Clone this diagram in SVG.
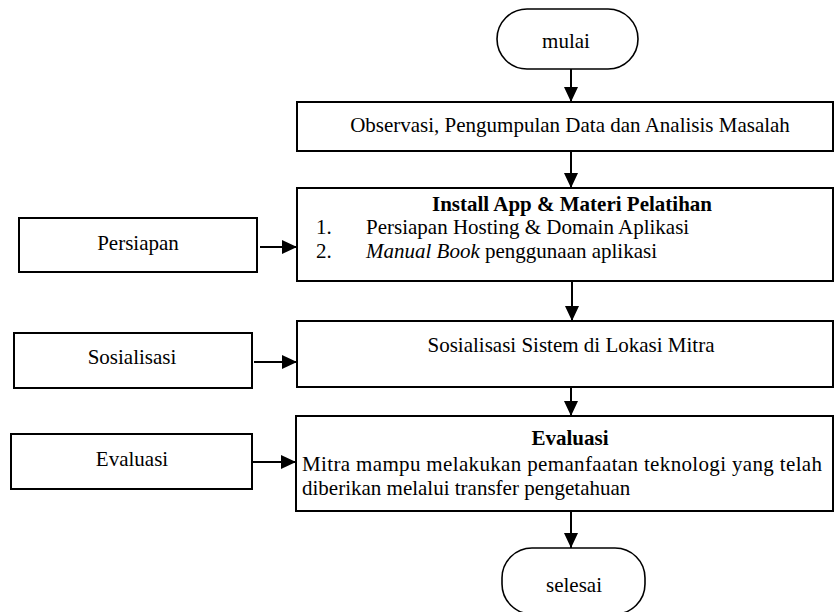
<svg xmlns="http://www.w3.org/2000/svg" width="835" height="612" viewBox="0 0 835 612">
<style>
  .box{fill:#fff;stroke:#000;stroke-width:2}
  .term{fill:#fff;stroke:#000;stroke-width:1.6}
  .t{font-family:"Liberation Serif","Times New Roman",serif;font-size:21px;fill:#000}
  .c{text-anchor:middle}
  .b{font-weight:bold}
  .conn line{stroke:#000;stroke-width:2;marker-end:url(#ah)}
</style>
<defs>
  <marker id="ah" markerUnits="userSpaceOnUse" markerWidth="15" markerHeight="14" refX="15" refY="7" orient="auto">
    <path d="M0,0 L15,7 L0,14 z" fill="#000"/>
  </marker>
</defs>
<rect width="835" height="612" fill="#fff"/>
<g id="mulai">
  <rect class="term" x="497" y="9" width="141" height="60" rx="30" ry="30"/>
  <text class="t c" x="566" y="48">mulai</text>
</g>
<g id="observasi">
  <rect class="box" x="297" y="102" width="536" height="49"/>
  <text class="t c" x="570" y="132">Observasi, Pengumpulan Data dan Analisis Masalah</text>
</g>
<g id="install">
  <rect class="box" x="297" y="188" width="536" height="93"/>
  <text class="t c b" x="572" y="211">Install App &amp; Materi Pelatihan</text>
  <text class="t" x="316" y="234">1.</text>
  <text class="t" x="366" y="234">Persiapan Hosting &amp; Domain Aplikasi</text>
  <text class="t" x="316" y="258">2.</text>
  <text class="t" x="366" y="258"><tspan font-style="italic">Manual Book</tspan> penggunaan aplikasi</text>
</g>
<g id="sosialisasi-sistem">
  <rect class="box" x="297" y="321" width="536" height="66"/>
  <text class="t c" x="571" y="352">Sosialisasi Sistem di Lokasi Mitra</text>
</g>
<g id="evaluasi-main">
  <rect class="box" x="296" y="416" width="537" height="95"/>
  <text class="t c b" x="570" y="445">Evaluasi</text>
  <text class="t" x="302" y="471" textLength="520" lengthAdjust="spacing">Mitra mampu melakukan pemanfaatan teknologi yang telah</text>
  <text class="t" x="302" y="495">diberikan melalui transfer pengetahuan</text>
</g>
<g id="persiapan">
  <rect class="box" x="19" y="218" width="238" height="54"/>
  <text class="t c" x="138" y="250">Persiapan</text>
</g>
<g id="sosialisasi">
  <rect class="box" x="14" y="333" width="238" height="55"/>
  <text class="t c" x="132" y="364">Sosialisasi</text>
</g>
<g id="evaluasi">
  <rect class="box" x="11" y="434" width="241" height="55"/>
  <text class="t c" x="132" y="466">Evaluasi</text>
</g>
<g id="selesai">
  <rect class="term" x="502" y="548" width="143" height="66" rx="30" ry="30"/>
  <text class="t c" x="574" y="592">selesai</text>
</g>
<g id="connectors" class="conn">
  <line x1="571" y1="69" x2="571" y2="102"/>
  <line x1="571" y1="151" x2="571" y2="188"/>
  <line x1="572" y1="281" x2="572" y2="321"/>
  <line x1="571" y1="387" x2="571" y2="416"/>
  <line x1="571" y1="511" x2="571" y2="548"/>
  <line x1="260" y1="247" x2="297" y2="247"/>
  <line x1="254" y1="362" x2="297" y2="362"/>
  <line x1="252" y1="462" x2="296" y2="462"/>
</g>
</svg>
